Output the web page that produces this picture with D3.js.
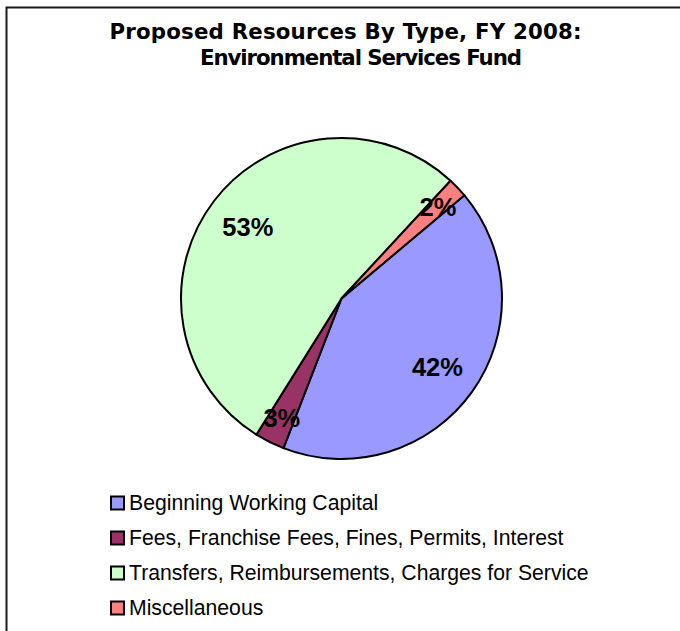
<!DOCTYPE html>
<html>
<head>
<meta charset="utf-8">
<script src="https://cdn.jsdelivr.net/npm/d3@7"></script>
<style>
  html, body { margin: 0; padding: 0; background: #fff; }
  svg { display: block; }
</style>
</head>
<body>
<svg id="chart" width="680" height="631"></svg>
<script>
// Resource categories and their shares (percent)
const categories = [
  "Beginning Working Capital",
  "Fees, Franchise Fees, Fines, Permits, Interest",
  "Transfers, Reimbursements, Charges for Service",
  "Miscellaneous"
];
const shares = [42, 3, 53, 2];
const colors = ["#9999FF", "#993366", "#CCFFCC", "#FF8080"];
const titleLines = [
  "Proposed Resources By Type, FY 2008:",
  "Environmental Services Fund"
];

const svg = d3.select("#chart");

// Outer frame (runs off the right and bottom edges)
svg.append("rect")
  .attr("x", 6.5).attr("y", 7.5)
  .attr("width", 700).attr("height", 700)
  .attr("fill", "#fff")
  .attr("stroke", "#1a1a1a")
  .attr("stroke-width", 2);

// Title, two centred lines fitted to the title box width
const titleFont = "'DejaVu Sans', Verdana, sans-serif";
const titleSpec = [
  { x: 345.5, y: 38.5, w: 472 },
  { x: 361, y: 65, w: 322 }
];
svg.selectAll("text.title")
  .data(titleLines)
  .join("text")
  .attr("class", "title")
  .attr("x", (d, i) => titleSpec[i].x)
  .attr("y", (d, i) => titleSpec[i].y)
  .attr("text-anchor", "middle")
  .attr("font-family", titleFont)
  .attr("font-weight", "bold")
  .attr("font-size", 21.3)
  .attr("textLength", (d, i) => titleSpec[i].w)
  .attr("lengthAdjust", "spacing")
  .attr("fill", "#000")
  .text(d => d);

// Pie
const cx = 341.5, cy = 298.5, R = 160.5;
const startDeg = 50;
const pie = d3.pie()
  .value(d => d)
  .sort(null)
  .startAngle(startDeg * Math.PI / 180)
  .endAngle((startDeg + 360) * Math.PI / 180);
const arcs = pie(shares);
const arc = d3.arc().innerRadius(0).outerRadius(R);

const g = svg.append("g").attr("transform", `translate(${cx},${cy})`);
g.selectAll("path.slice")
  .data(arcs)
  .join("path")
  .attr("class", "slice")
  .attr("d", arc)
  .attr("fill", (d, i) => colors[i])
  .attr("stroke", "#000")
  .attr("stroke-width", 2)
  .attr("stroke-linejoin", "round");

// Percentage labels: large slices sit a bit further in than thin ones
const labelArcBig = d3.arc().innerRadius(R * 0.735).outerRadius(R * 0.735);
const labelArcSmall = d3.arc().innerRadius(R * 0.83).outerRadius(R * 0.83);
g.selectAll("text.pct")
  .data(arcs)
  .join("text")
  .attr("class", "pct")
  .attr("transform", d => {
    const a = (d.endAngle - d.startAngle) > 0.5 ? labelArcBig : labelArcSmall;
    const [x, y] = a.centroid(d);
    return `translate(${x},${y})`;
  })
  .attr("text-anchor", "middle")
  .attr("dy", "0.36em")
  .attr("font-family", "'Liberation Sans', Arial, sans-serif")
  .attr("font-weight", "bold")
  .attr("font-size", 25.5)
  .attr("fill", "#000")
  .text(d => d.data + "%");

// Legend
const legend = svg.append("g");
const rowY = d3.scalePoint().domain(d3.range(categories.length)).range([503, 608]);
const rows = legend.selectAll("g.row")
  .data(categories)
  .join("g")
  .attr("class", "row")
  .attr("transform", (d, i) => `translate(0,${rowY(i)})`);
rows.append("rect")
  .attr("x", 111).attr("y", -6.5)
  .attr("width", 13).attr("height", 13)
  .attr("fill", (d, i) => colors[i])
  .attr("stroke", "#000")
  .attr("stroke-width", 2);
rows.append("text")
  .attr("x", 129).attr("y", 0)
  .attr("dy", "0.35em")
  .attr("font-family", "'Liberation Sans', Arial, sans-serif")
  .attr("font-size", 21.2)
  .attr("fill", "#000")
  .text(d => d);
</script>
</body>
</html>
